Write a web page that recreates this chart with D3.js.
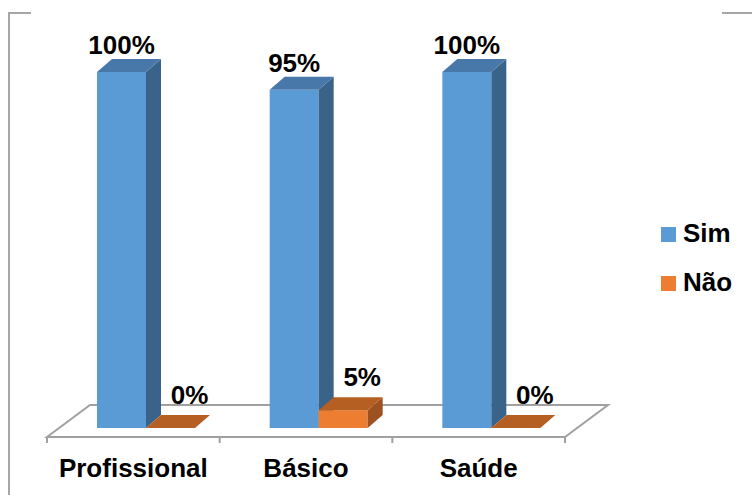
<!DOCTYPE html>
<html>
<head>
<meta charset="utf-8">
<script src="https://cdn.jsdelivr.net/npm/d3@7"></script>
<style>
  html, body { margin: 0; padding: 0; background: #fff; }
  svg { display: block; }
  text { font-family: "Liberation Sans", Arial, sans-serif; font-weight: bold; fill: #000; }
</style>
</head>
<body>
<svg id="chart" width="752" height="495"></svg>
<script>
// Chart data
const categories = ["Profissional", "Básico", "Saúde"];
const seriesNames = ["Sim", "Não"];
const simValues = [1.00, 0.95, 1.00];
const naoValues = [0.00, 0.05, 0.00];

const seriesValues = [simValues, naoValues];
const colors = {
  Sim: { front: "#5B9BD5", top: "#4878AA", side: "#3A6389" },
  "Não": { front: "#ED7D31", top: "#B65F23", side: "#9C5220" }
};

const svg = d3.select("#chart");

// Floor geometry (oblique 3D projection)
const floorFront = 437, floorBack = 405;
const floorShift = 43;             // horizontal shift from front to back edge
const depthDx = 15, depthDy = -13; // depth of each bar
const barBase = 428;

const x = d3.scaleBand().domain(categories).range([47, 565]).paddingInner(0).paddingOuter(0);
const xs = d3.scaleBand().domain(seriesNames).range([50, 148]);
const y = d3.scaleLinear().domain([0, 1]).range([barBase, 72]);

// Partial outer frame
const frame = svg.append("g").attr("stroke", "#A6A6A6").attr("stroke-width", 2).attr("fill", "none");
frame.append("path").attr("d", "M31,13 H9 V495");
frame.append("path").attr("d", "M722,13 H752");

// Floor
const [x0, x1] = x.range();
const floor = svg.append("g").attr("stroke", "#A0A0A0").attr("stroke-width", 2).attr("fill", "none");
floor.append("path")
  .attr("d", `M${x0},${floorFront} L${x0 + floorShift},${floorBack} H${x1 + floorShift} L${x1},${floorFront} Z`)
  .attr("stroke-linejoin", "miter");

// Category ticks on the front edge
const tickPos = categories.map(c => x(c)).concat([x1]);
floor.selectAll("line.tick").data(tickPos).join("line")
  .attr("class", "tick")
  .attr("x1", d => d).attr("x2", d => d)
  .attr("y1", floorFront).attr("y2", floorFront + 6);

// Bars
const bars = [];
categories.forEach((c, ci) => {
  seriesNames.forEach((s, si) => {
    bars.push({ cat: c, series: s, value: seriesValues[si][ci] });
  });
});

const w = xs.bandwidth();
const g = svg.append("g");
bars.forEach(b => {
  const bx = x(b.cat) + xs(b.series);
  const yt = y(b.value);
  const col = colors[b.series];
  const bar = g.append("g");
  // front face
  bar.append("rect")
    .attr("x", bx).attr("y", yt)
    .attr("width", w).attr("height", barBase - yt)
    .attr("fill", col.front);
  // side face
  bar.append("path")
    .attr("d", `M${bx + w},${yt} L${bx + w + depthDx},${yt + depthDy} L${bx + w + depthDx},${barBase + depthDy} L${bx + w},${barBase} Z`)
    .attr("fill", col.side);
  // top face
  bar.append("path")
    .attr("d", `M${bx},${yt} L${bx + depthDx},${yt + depthDy} L${bx + w + depthDx},${yt + depthDy} L${bx + w},${yt} Z`)
    .attr("fill", col.top);
});

// Value labels
const fmt = d3.format(".0%");
const labelOffset = { Sim: { dx: 0, dy: -5 }, "Não": { dx: 19, dy: -11 } };
g.selectAll("text.value").data(bars).join("text")
  .attr("class", "value")
  .attr("x", d => x(d.cat) + xs(d.series) + w / 2 + labelOffset[d.series].dx)
  .attr("y", d => y(d.value) + depthDy + labelOffset[d.series].dy)
  .attr("text-anchor", "middle")
  .attr("font-size", 26)
  .text(d => fmt(d.value));

// Category labels
svg.selectAll("text.cat").data(categories).join("text")
  .attr("class", "cat")
  .attr("x", d => x(d) + x.bandwidth() / 2)
  .attr("y", 477)
  .attr("text-anchor", "middle")
  .attr("font-size", 26)
  .text(d => d);

// Legend
const legend = svg.append("g").attr("transform", "translate(661,227)");
const li = legend.selectAll("g").data(seriesNames).join("g")
  .attr("transform", (d, i) => `translate(0,${i * 49})`);
li.append("rect").attr("width", 15).attr("height", 15).attr("fill", d => colors[d].front);
li.append("text").attr("x", 22).attr("y", 15).attr("font-size", 26).text(d => d);
</script>
</body>
</html>
